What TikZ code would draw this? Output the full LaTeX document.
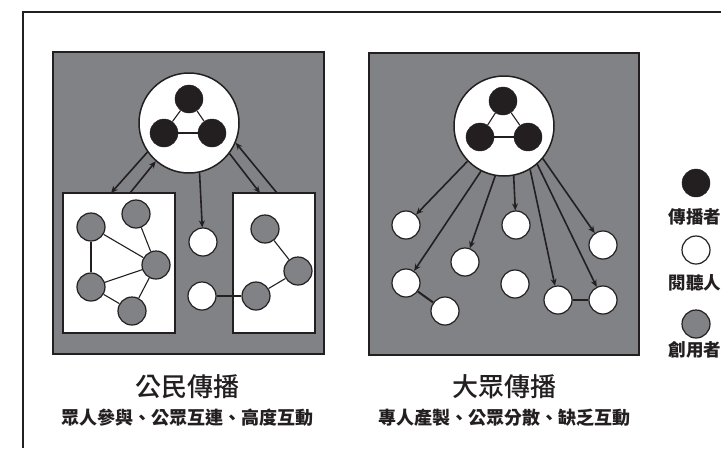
\documentclass[tikz,border=0pt]{standalone}
\usepackage{fontspec}
\newfontfamily\cjk{Noto Sans CJK TC}
\IfFontExistsTF{Noto Sans CJK TC Medium}
  {\newfontfamily\cjkmed{Noto Sans CJK TC Medium}}
  {\newcommand\cjkmed{\cjk\bfseries}}
\usetikzlibrary{arrows.meta}
\definecolor{pgray}{RGB}{128,130,133}
\definecolor{ink}{RGB}{35,31,32}
\begin{document}
\begin{tikzpicture}[x=1pt,y=-1pt,
 panel/.style={draw=ink,line width=1.8pt,fill=pgray,inner sep=0,outer sep=0},
 wbox/.style={draw=ink,line width=1.5pt,fill=white,inner sep=0,outer sep=0},
 hub/.style={circle,draw=ink,line width=1.5pt,fill=white,minimum size=100pt,inner sep=0},
 snd/.style={circle,fill=ink,draw=ink,minimum size=28pt,inner sep=0},
 aud/.style={circle,fill=white,draw=ink,line width=1.2pt,minimum size=28pt,inner sep=0},
 usr/.style={circle,fill=pgray,draw=ink,line width=1.2pt,minimum size=28pt,inner sep=0},
 link/.style={draw=ink,line width=1.1pt},
 tie/.style={draw=ink,line width=2pt},
 arr/.style={draw=ink,line width=1.6pt,-{Stealth[length=7pt,width=6pt]}},
 title/.style={text=ink,font=\cjkmed\fontsize{26}{30}\selectfont,inner sep=0},
 sub/.style={text=ink,font=\cjk\bfseries\fontsize{18}{22}\selectfont,inner sep=0},
 leg/.style={text=ink,font=\cjk\bfseries\fontsize{17.5}{20}\selectfont,inner sep=0},
]
\useasboundingbox (0,0) rectangle (721,448);
\draw[ink,line width=1.5pt] (23,448) -- (23,12) -- (721,12);

% ---------- left panel ----------
\node[panel,minimum width=271pt,minimum height=302pt,anchor=north west] (panL) at (53,52) {};
\node[wbox,minimum width=112pt,minimum height=140pt,anchor=north west] (boxL) at (63,193) {};
\node[wbox,minimum width=82pt,minimum height=140pt,anchor=north west] (boxR) at (233,193) {};
\node[hub] (hubL) at (189,123) {};
\node[snd] (sL1) at (189,99) {};
\node[snd] (sL2) at (164,133) {};
\node[snd] (sL3) at (212,133) {};
\draw[link] (sL1) -- (sL2);
\draw[link] (sL1) -- (sL3);
\draw[link] (sL2) -- (sL3);

\node[usr] (g1) at (91,227) {};
\node[usr] (g2) at (136,214) {};
\node[usr] (g3) at (156,265) {};
\node[usr] (g4) at (91,287) {};
\node[usr] (g5) at (132,311) {};
\draw[link] (g1) -- (g3);
\draw[link] (g1) -- (g4);
\draw[link] (g2) -- (g3);
\draw[link] (g4) -- (g3);
\draw[link] (g4) -- (g5);
\draw[link] (g3) -- (g5);

\node[aud] (w1) at (203,242) {};
\node[aud] (w2) at (202,296) {};

\node[usr] (h1) at (265,229) {};
\node[usr] (h2) at (298,271) {};
\node[usr] (h3) at (256,296) {};
\draw[link] (h1) -- (h2);
\draw[link] (h2) -- (h3);
\draw[tie] (w2) -- (h3);

\coordinate (la1) at (111,193);
\coordinate (la2) at (130,193);
\coordinate (ra1) at (260,193);
\coordinate (ra2) at (277,193);
\draw[arr] (hubL.215) -- (la1);
\draw[arr] (la2) -- (hubL.229);
\draw[arr] (hubL.323) -- (ra1);
\draw[arr] (ra2) -- (hubL.337);
\draw[arr] (hubL.282) -- (w1);

% ---------- right panel ----------
\node[panel,minimum width=270pt,minimum height=302pt,anchor=north west] (panR) at (369,53) {};
\node[hub] (hubR) at (504,126) {};
\node[snd] (sR1) at (503,101) {};
\node[snd] (sR2) at (480,137) {};
\node[snd] (sR3) at (528,137) {};
\draw[link] (sR1) -- (sR2);
\draw[link] (sR1) -- (sR3);
\draw[link] (sR2) -- (sR3);

\node[aud] (a) at (406,225) {};
\node[aud] (b) at (465,262) {};
\node[aud] (c) at (516,225) {};
\node[aud] (d) at (603,245) {};
\node[aud] (e) at (406,283) {};
\node[aud] (f) at (445,311) {};
\node[aud] (g) at (515,284) {};
\node[aud] (h) at (558,300) {};
\node[aud] (i) at (603,300) {};
\draw[tie] (e) -- (f);
\draw[tie] (h) -- (i);

\draw[arr] (hubR.224) -- (a);
\draw[arr] (hubR.243) -- (e);
\draw[arr] (hubR.260) -- (b);
\draw[arr] (hubR.281) -- (c);
\draw[arr] (hubR.301) -- (h);
\draw[arr] (hubR.311) -- (i);
\draw[arr] (hubR.320) -- (d);

% ---------- captions ----------
\node[title] (t1) at (187,387) {公民傳播};
\node[sub] (s1) at (187,418) {眾人參與、公眾互連、高度互動};
\node[title] (t2) at (504,387) {大眾傳播};
\node[sub] (s2) at (504,418) {專人產製、公眾分散、缺乏互動};

% ---------- legend ----------
\node[snd] (k1) at (696,183) {};
\node[leg] (k1t) at (695,217) {傳播者};
\node[aud] (k2) at (696,250) {};
\node[leg] (k2t) at (695,283) {閱聽人};
\node[usr] (k3) at (696,324) {};
\node[leg] (k3t) at (695,350) {創用者};
\end{tikzpicture}
\end{document}
